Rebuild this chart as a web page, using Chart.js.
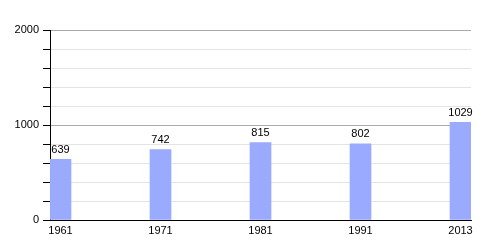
<!DOCTYPE html>
<html>
<head>
<meta charset="utf-8">
<script src="https://cdn.jsdelivr.net/npm/chart.js@4"></script>
<style>
  html, body { margin: 0; padding: 0; background: #fff; }
  #wrap { width: 500px; height: 250px; }
</style>
</head>
<body>
<div id="wrap"><canvas id="chart" width="500" height="250"></canvas></div>
<script>
const years = ['1961', '1971', '1981', '1991', '2013'];
const population = [639, 742, 815, 802, 1029];
const yTicksMajor = [0, 1000, 2000];

// Draw the value above each bar
const valueLabels = {
    id: 'valueLabels',
    afterDatasetsDraw(chart) {
        const ctx = chart.ctx;
        const meta = chart.getDatasetMeta(0);
        ctx.save();
        ctx.font = '11px "Liberation Sans", Arial, sans-serif';
        ctx.fillStyle = '#000';
        ctx.textAlign = 'center';
        ctx.textBaseline = 'bottom';
        meta.data.forEach((bar, i) => {
            ctx.fillText(String(population[i]), bar.x, bar.y - 4);
        });
        ctx.restore();
    }
};

new Chart(document.getElementById('chart').getContext('2d'), {
    type: 'bar',
    data: {
        datasets: [{
            data: population.map((v, i) => ({ x: i, y: v })),
            backgroundColor: '#99aaff',
            barThickness: 21
        }]
    },
    options: {
        responsive: false,
        animation: false,
        layout: { padding: { top: 30, right: 29, left: 0, bottom: 0 } },
        plugins: { legend: { display: false }, tooltip: { enabled: false } },
        scales: {
            x: {
                type: 'linear',
                offset: false,
                min: -0.105,
                max: 4.105,
                afterBuildTicks: scale => {
                    scale.ticks = years.map((y, i) => ({ value: i }));
                },
                afterFit: scale => { scale.height = 30; },
                grid: { display: false, drawTicks: false },
                border: { display: true, color: '#000', width: 1 },
                ticks: {
                    autoSkip: false,
                    maxRotation: 0,
                    padding: 4,
                    color: '#000',
                    font: { family: '"Liberation Sans", Arial, sans-serif', size: 11 },
                    callback: v => years[v]
                }
            },
            y: {
                min: 0,
                max: 2000,
                afterFit: scale => { scale.width = 50; },
                grid: {
                    tickLength: 7,
                    tickColor: '#000',
                    color: c => c.tick.value === 0 ? '#000' : (yTicksMajor.includes(c.tick.value) ? '#aaaaaa' : '#e4e4e4')
                },
                border: { display: true, color: '#000', width: 1 },
                ticks: {
                    stepSize: 200,
                    padding: 4,
                    color: '#000',
                    font: { family: '"Liberation Sans", Arial, sans-serif', size: 11 },
                    callback: v => yTicksMajor.includes(v) ? String(v) : ''
                }
            }
        }
    },
    plugins: [valueLabels]
});
</script>
</body>
</html>
